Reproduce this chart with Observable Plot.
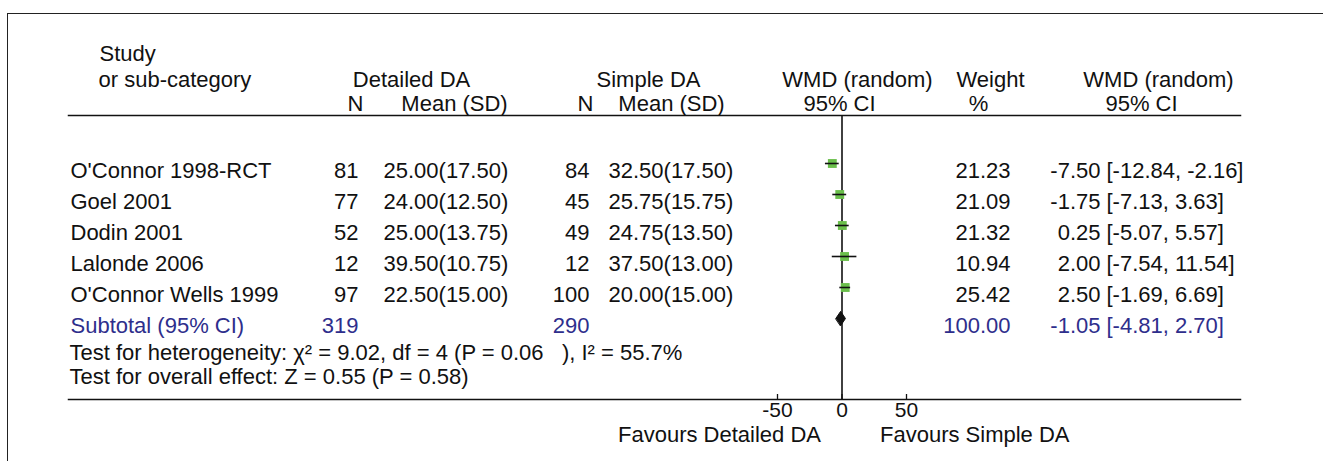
<!DOCTYPE html>
<html>
<head>
<meta charset="utf-8">
<script src="https://cdn.jsdelivr.net/npm/d3@7"></script>
<script src="https://cdn.jsdelivr.net/npm/@observablehq/plot@0.6"></script>
<style>
  html, body { margin: 0; padding: 0; background: #fff; }
  #wrap { position: relative; width: 1323px; height: 461px; overflow: hidden; }
  #box { position: absolute; left: 7px; top: 13px; width: 1330px; height: 470px;
         border-left: 1.5px solid #222; border-top: 1.5px solid #222; }
  #chart { position: absolute; left: 0; top: 0; }
  svg text { white-space: pre; }
</style>
</head>
<body>
<div id="wrap"><div id="box"></div><div id="chart"></div></div>
<script>
// ---- data ----
const studies = ["O'Connor 1998-RCT", "Goel 2001", "Dodin 2001", "Lalonde 2006", "O'Connor Wells 1999"];
const nDetailed = [81, 77, 52, 12, 97];
const meanDetailed = [25.00, 24.00, 25.00, 39.50, 22.50];
const sdDetailed = [17.50, 12.50, 13.75, 10.75, 15.00];
const nSimple = [84, 45, 49, 12, 100];
const meanSimple = [32.50, 25.75, 24.75, 37.50, 20.00];
const sdSimple = [17.50, 15.75, 13.50, 13.00, 15.00];
const weights = [21.23, 21.09, 21.32, 10.94, 25.42];
const wmd = [-7.50, -1.75, 0.25, 2.00, 2.50];
const ciLow = [-12.84, -7.13, -5.07, -7.54, -1.69];
const ciHigh = [-2.16, 3.63, 5.57, 11.54, 6.69];

const subtotalLabel = "Subtotal (95% CI)";
const totalNDetailed = 319;
const totalNSimple = 290;
const totalWeight = 100.00;
const pooled = -1.05, pooledLow = -4.81, pooledHigh = 2.70;

const heterogeneityText = "Test for heterogeneity: \u03c7\u00b2 = 9.02, df = 4 (P = 0.06   ), I\u00b2 = 55.7%";
const overallText = "Test for overall effect: Z = 0.55 (P = 0.58)";

const xTicks = [-50, 0, 50];
const favourLabels = ["Favours Detailed DA", "Favours Simple DA"];

const headerTop = ["Study"];
const headerMid = ["or sub-category", "Detailed DA", "Simple DA", "WMD (random)", "Weight", "WMD (random)"];
const headerLow = ["N", "Mean (SD)", "N", "Mean (SD)", "95% CI", "%", "95% CI"];

// ---- derived tables ----
const f2 = v => v.toFixed(2);
const rows = studies.map((s, i) => ({
  i, name: s, nD: nDetailed[i], mD: `${f2(meanDetailed[i])}(${f2(sdDetailed[i])})`,
  nS: nSimple[i], mS: `${f2(meanSimple[i])}(${f2(sdSimple[i])})`,
  w: f2(weights[i]), est: wmd[i], lo: ciLow[i], hi: ciHigh[i],
  estTxt: f2(wmd[i]), ciTxt: `[${f2(ciLow[i])}, ${f2(ciHigh[i])}]`
}));
const subRow = studies.length;
const sub = [{i: subRow, name: subtotalLabel, nD: totalNDetailed, nS: totalNSimple, w: f2(totalWeight),
  estTxt: f2(pooled), ciTxt: `[${f2(pooledLow)}, ${f2(pooledHigh)}]`}];
const diamondHalf = 0.23; // half-height of the pooled diamond, in row units
const diamond = [
  {x: pooledLow, y: subRow}, {x: pooled, y: subRow - diamondHalf},
  {x: pooledHigh, y: subRow}, {x: pooled, y: subRow + diamondHalf}
];

// ---- style ----
const FONT = "Liberation Sans, Arial, Helvetica, sans-serif";
const FS = 22;
const INK = "#111";
const NAVY = "#2e2e8c";
const GREEN = "#6abf4b";
const T = {fontFamily: FONT, fontSize: FS, fill: INK, frameAnchor: "left"};
const ML = 68;
const col = {name: 2, nD: 290, mD: 315, nS: 521, mS: 540, w: 942, est: 1032, ci: 1038};
const MARK_DY = -7;

function cols(data, color) {
  const o = {...T, fill: color};
  return [
    Plot.text(data, {...o, y: "i", text: "name", dx: col.name, textAnchor: "start"}),
    Plot.text(data, {...o, y: "i", text: "nD", dx: col.nD, textAnchor: "end"}),
    Plot.text(data, {...o, y: "i", text: d => d.mD ?? "", dx: col.mD, textAnchor: "start"}),
    Plot.text(data, {...o, y: "i", text: "nS", dx: col.nS, textAnchor: "end"}),
    Plot.text(data, {...o, y: "i", text: d => d.mS ?? "", dx: col.mS, textAnchor: "start"}),
    Plot.text(data, {...o, y: "i", text: "w", dx: col.w, textAnchor: "end"}),
    Plot.text(data, {...o, y: "i", text: "estTxt", dx: col.est, textAnchor: "end"}),
    Plot.text(data, {...o, y: "i", text: "ciTxt", dx: col.ci, textAnchor: "start"})
  ];
}

const H = {...T, frameAnchor: "top-left"};
const midDx = [30, 343, 580, 789, 922, 1090];
const midAnchor = ["start", "middle", "middle", "middle", "middle", "middle"];
const lowDx = [287, 386, 517, 603, 771, 910, 1073];
const favDx = [-21, 38];
const favAnchor = ["end", "start"];

const chart = Plot.plot({
  width: 1323,
  height: 461,
  marginLeft: ML,
  marginRight: 83,
  marginTop: 115,
  marginBottom: 62,
  style: {fontFamily: FONT, background: "transparent", overflow: "visible"},
  x: {domain: [-50, 50], range: [777, 906], axis: null},
  y: {type: "linear", domain: [0, subRow], range: [170, 325], axis: null},
  marks: [
    Plot.frame({anchor: "top", stroke: INK, strokeWidth: 1.5}),
    Plot.frame({anchor: "bottom", stroke: INK, strokeWidth: 1.5}),
    Plot.ruleX([0], {stroke: INK, strokeWidth: 1.6}),
    Plot.tickX(xTicks, {x: d => d, insetTop: 279, stroke: INK, strokeWidth: 1.3}),
    Plot.text(xTicks, {x: d => d, text: d => String(d), frameAnchor: "bottom", dy: 17,
      fontFamily: FONT, fontSize: 21, fill: INK}),
    ...favourLabels.map((t, k) => Plot.text([t], {x: () => 0, text: d => d, frameAnchor: "bottom", dy: 42,
      textAnchor: favAnchor[k], dx: favDx[k], fontFamily: FONT, fontSize: FS, fill: INK})),
    // header
    Plot.text(headerTop, {...H, text: d => d, dx: 31, dy: -70, textAnchor: "start"}),
    ...headerMid.map((t, k) => Plot.text([t], {...H, text: d => d, dx: midDx[k], dy: -44, textAnchor: midAnchor[k]})),
    ...headerLow.map((t, k) => Plot.text([t], {...H, text: d => d, dx: lowDx[k], dy: -20, textAnchor: "middle"})),
    // table columns
    ...cols(rows, INK),
    ...cols(sub, NAVY),
    // heterogeneity and overall effect
    Plot.text([heterogeneityText], {...T, frameAnchor: "bottom-left", text: d => d, dx: 1, dy: -40, textAnchor: "start"}),
    Plot.text([overallText], {...T, frameAnchor: "bottom-left", text: d => d, dx: 1, dy: -16, textAnchor: "start"}),
    // forest markers
    Plot.dot(rows, {x: "est", y: "i", symbol: "square", r: 5, fill: GREEN, stroke: "none", dy: MARK_DY}),
    Plot.ruleY(rows, {y: "i", x1: "lo", x2: "hi", stroke: INK, strokeWidth: 1.6, dy: MARK_DY}),
    Plot.line(diamond, {x: "x", y: "y", fill: INK, stroke: INK, strokeWidth: 1, curve: "linear-closed", dy: MARK_DY})
  ]
});
document.getElementById("chart").appendChild(chart);
</script>
</body>
</html>
